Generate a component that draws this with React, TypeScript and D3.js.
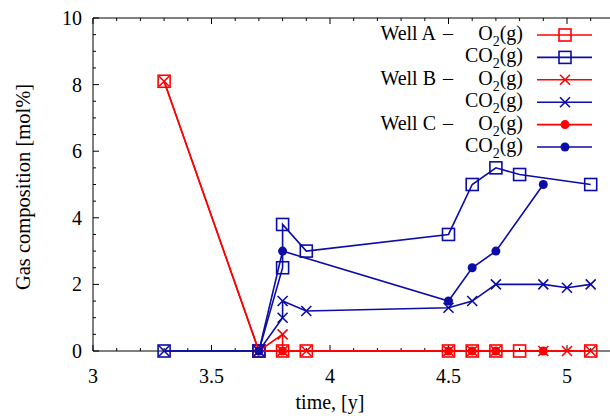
import * as d3 from "d3";

// sample times [y] and gas composition [mol%] for each well
const timesAO2 = [3.3, 3.7, 3.8, 3.9, 4.5, 4.6, 4.7, 4.8, 5.1];
const valuesAO2 = [8.1, 0, 0, 0, 0, 0, 0, 0, 0];
const timesACO2 = [3.3, 3.7, 3.8, 3.8, 3.9, 4.5, 4.6, 4.7, 4.8, 5.1];
const valuesACO2 = [0, 0, 2.5, 3.8, 3.0, 3.5, 5.0, 5.5, 5.3, 5.0];
const timesBO2 = [3.3, 3.7, 3.8, 3.8, 3.9, 4.5, 4.6, 4.7, 4.9, 5.0, 5.1];
const valuesBO2 = [8.1, 0, 0.5, 0, 0, 0, 0, 0, 0, 0, 0];
const timesBCO2 = [3.3, 3.7, 3.8, 3.8, 3.9, 4.5, 4.6, 4.7, 4.9, 5.0, 5.1];
const valuesBCO2 = [0, 0, 1.0, 1.5, 1.2, 1.3, 1.5, 2.0, 2.0, 1.9, 2.0];
const timesCO2 = [3.7, 3.8, 4.5, 4.6, 4.7, 4.9];
const valuesCO2 = [0, 0, 0, 0, 0, 0];
const timesCCO2 = [3.7, 3.8, 4.5, 4.6, 4.7, 4.9];
const valuesCCO2 = [0, 3.0, 1.5, 2.5, 3.0, 5.0];

const wells = ["Well A", "Well B", "Well C"];
const xTicks = [3, 3.5, 4, 4.5, 5];
const yTicks = [0, 2, 4, 6, 8, 10];

const RED = "#ff0000";
const BLUE = "#0c0ca6";
const FONT = "'Liberation Serif', 'DejaVu Serif', serif";
const FS = 20;

type Marker = "square" | "cross" | "dot";
interface Series {
  well: number;
  gas: "O" | "CO";
  times: number[];
  values: number[];
  color: string;
  marker: Marker;
}

const series: Series[] = [
  { well: 0, gas: "O", times: timesAO2, values: valuesAO2, color: RED, marker: "square" },
  { well: 0, gas: "CO", times: timesACO2, values: valuesACO2, color: BLUE, marker: "square" },
  { well: 1, gas: "O", times: timesBO2, values: valuesBO2, color: RED, marker: "cross" },
  { well: 1, gas: "CO", times: timesBCO2, values: valuesBCO2, color: BLUE, marker: "cross" },
  { well: 2, gas: "O", times: timesCO2, values: valuesCO2, color: RED, marker: "dot" },
  { well: 2, gas: "CO", times: timesCCO2, values: valuesCCO2, color: BLUE, marker: "dot" },
];

const width = 610;
const height = 416;
const margin = { top: 18, left: 93, bottom: 351 };

const x = d3.scaleLinear().domain([3, 5.2]).range([margin.left, margin.left + 2.2 * 237]);
const y = d3.scaleLinear().domain([0, 10]).range([margin.bottom, margin.top]);

function MarkerShape({ kind, cx, cy, color }: { kind: Marker; cx: number; cy: number; color: string }) {
  if (kind === "square") {
    return <rect x={cx - 6} y={cy - 6} width={12} height={12} fill="none" stroke={color} strokeWidth={1.6} />;
  }
  if (kind === "cross") {
    const s = 5;
    return (
      <path
        d={`M${cx - s},${cy - s}L${cx + s},${cy + s}M${cx - s},${cy + s}L${cx + s},${cy - s}`}
        stroke={color}
        strokeWidth={1.6}
        fill="none"
      />
    );
  }
  return <circle cx={cx} cy={cy} r={4.5} fill={color} />;
}

function GasLabel({ x0, y0, gas }: { x0: number; y0: number; gas: string }) {
  return (
    <text x={x0} y={y0} textAnchor="end" fontFamily={FONT} fontSize={FS} fill="#000">
      {gas}
      <tspan dy={6} fontSize={14}>2</tspan>
      <tspan dy={-6}>(g)</tspan>
    </text>
  );
}

export default function App() {
  const line = d3
    .line<[number, number]>()
    .x((d) => x(d[0]))
    .y((d) => y(d[1]));

  const xMinor = d3.range(3, 5.21, 0.1);
  const yMinor = d3.range(0, 10.01, 0.5);
  const right = x(5.2);

  return (
    <svg
      width={width}
      height={height}
      style={{ position: "absolute", left: 0, top: 0, background: "#fff" }}
    >
      {/* border: left, bottom, top (right side falls outside the picture) */}
      <g stroke="#000" strokeWidth={1} fill="none">
        <path d={`M${margin.left},${margin.top}V${margin.bottom}H${right}`} />
        <path d={`M${margin.left},${margin.top}H${right}`} />
        {xMinor.map((t, i) => {
          const major = i % 5 === 0;
          const len = major ? 6 : 3;
          return (
            <g key={`xt${i}`}>
              <line x1={x(t)} x2={x(t)} y1={margin.bottom} y2={margin.bottom - len} />
              <line x1={x(t)} x2={x(t)} y1={margin.top} y2={margin.top + len} />
            </g>
          );
        })}
        {yMinor.map((v, i) => {
          const major = i % 4 === 0;
          return (
            <line key={`yt${i}`} x1={margin.left} x2={margin.left + (major ? 6 : 3)} y1={y(v)} y2={y(v)} />
          );
        })}
      </g>

      {/* tick labels */}
      <g fontFamily={FONT} fontSize={FS} fill="#000">
        {xTicks.map((t) => (
          <text key={`xl${t}`} x={x(t)} y={383} textAnchor="middle">
            {t}
          </text>
        ))}
        {yTicks.map((v) => (
          <text key={`yl${v}`} x={82} y={y(v) + 7} textAnchor="end">
            {v}
          </text>
        ))}
        <text x={330} y={409} textAnchor="middle">time, [y]</text>
        <text transform="translate(30,187) rotate(-90)" textAnchor="middle" fontSize={20.5}>
          Gas composition [mol%]
        </text>
      </g>

      {/* data */}
      {series.map((s, i) => {
        const pts = s.times.map((t, j) => [t, s.values[j]] as [number, number]);
        return (
          <g key={`s${i}`}>
            <path d={line(pts) ?? ""} stroke={s.color} strokeWidth={1.6} fill="none" />
            {pts.map((p, j) => (
              <MarkerShape key={j} kind={s.marker} cx={x(p[0])} cy={y(p[1])} color={s.color} />
            ))}
          </g>
        );
      })}

      {/* legend */}
      {series.map((s, i) => {
        const ly = 35 + i * 22.4;
        return (
          <g key={`lg${i}`}>
            {s.gas === "O" && (
              <text x={453} y={ly + 5} textAnchor="end" fontFamily={FONT} fontSize={FS} fill="#000">
                {wells[s.well]}
                <tspan dx={7}>–</tspan>
              </text>
            )}
            <GasLabel x0={523} y0={ly + 5} gas={s.gas} />
            <line x1={537} x2={592} y1={ly} y2={ly} stroke={s.color} strokeWidth={1.6} />
            <MarkerShape kind={s.marker} cx={565} cy={ly} color={s.color} />
          </g>
        );
      })}
    </svg>
  );
}
